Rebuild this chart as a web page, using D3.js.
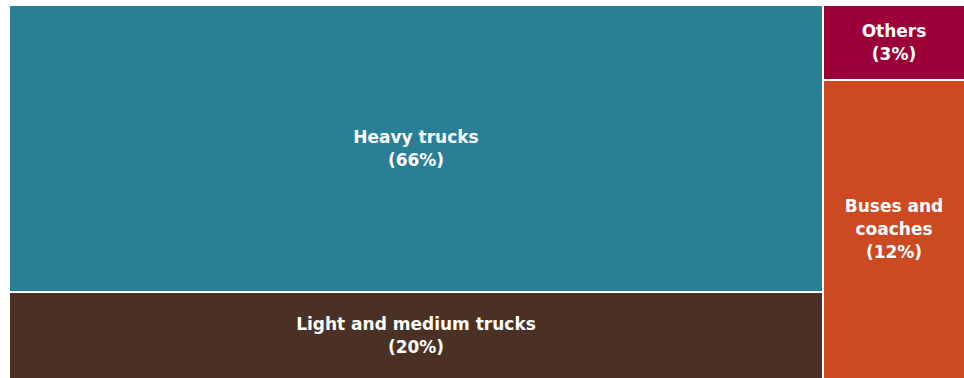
<!DOCTYPE html>
<html>
<head>
<meta charset="utf-8">
<script src="https://cdn.jsdelivr.net/npm/d3@7"></script>
<style>
  html, body { margin: 0; padding: 0; background: #ffffff; }
  svg { display: block; }
  .lbl { font-family: "DejaVu Sans", sans-serif; font-weight: bold; fill: #ffffff; }
</style>
</head>
<body>
<svg id="chart" width="964" height="378"></svg>
<script>
// Vehicle segments, grouped into two columns of the treemap
const groups = ["trucks", "other"];
const categories = ["Heavy trucks", "Light and medium trucks", "Others", "Buses and coaches"];
const categoryGroup = ["trucks", "trucks", "other", "other"];
const shares = [66, 20, 3, 12];
const labelLines = [["Heavy trucks"], ["Light and medium trucks"], ["Others"], ["Buses and", "coaches"]];
const colors = ["#297f96", "#4b3125", "#9b0039", "#cc4a22"];

const W = 964, H = 378;
const svg = d3.select("#chart");

// Build a two-level hierarchy: group -> category
const rootData = {
  name: "all",
  children: groups.map(g => ({
    name: g,
    children: categories
      .map((c, i) => ({ name: c, value: shares[i], idx: i }))
      .filter(d => categoryGroup[d.idx] === g)
  }))
};

const root = d3.hierarchy(rootData).sum(d => d.value || 0);

// Columns side by side, items stacked within each column
d3.treemap()
  .tile(d3.treemapSliceDice)
  .size([W - 10, H - 6])
  .paddingInner(2)
  .round(true)(root);

const g = svg.append("g").attr("transform", "translate(10,6)");

const leaves = g.selectAll("g.cell")
  .data(root.leaves())
  .join("g")
  .attr("class", "cell");

leaves.append("rect")
  .attr("x", d => d.x0)
  .attr("y", d => d.y0)
  .attr("width", d => d.x1 - d.x0)
  .attr("height", d => d.y1 - d.y0)
  .attr("fill", d => colors[d.data.idx]);

const lineH = 23;
leaves.each(function(d) {
  const lines = labelLines[d.data.idx].concat(["(" + shares[d.data.idx] + "%)"]);
  const cx = (d.x0 + d.x1) / 2;
  const cy = (d.y0 + d.y1) / 2;
  const startY = cy - (lines.length - 1) * lineH / 2;
  const t = d3.select(this).append("text")
    .attr("class", "lbl")
    .attr("text-anchor", "middle")
    .attr("font-size", 17);
  lines.forEach((s, k) => {
    t.append("tspan")
      .attr("x", cx)
      .attr("y", startY + k * lineH)
      .attr("dy", "0.35em")
      .text(s);
  });
});
</script>
</body>
</html>
